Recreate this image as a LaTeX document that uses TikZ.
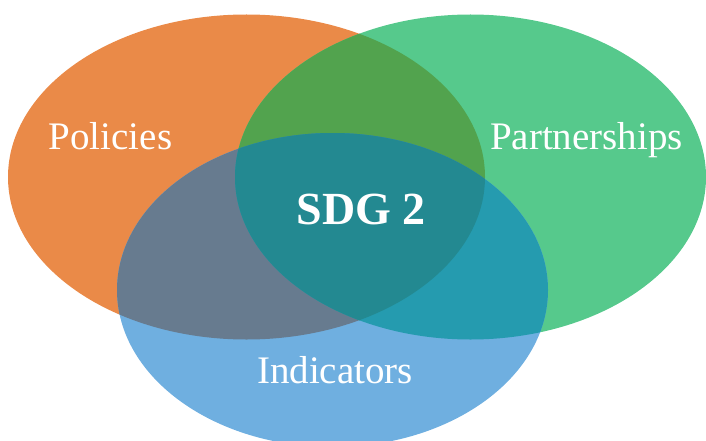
\documentclass[tikz,border=0pt]{standalone}
\usepackage{fontspec}
\setmainfont{Liberation Serif}
\definecolor{cO}{HTML}{EA8A48}
\definecolor{cG}{HTML}{56C98C}
\definecolor{cB}{HTML}{6FAFE0}
\definecolor{cOG}{HTML}{52A34E}
\definecolor{cOB}{HTML}{677B8F}
\definecolor{cGB}{HTML}{259BAF}
\definecolor{cOGB}{HTML}{238991}
\begin{document}
\begin{tikzpicture}[x=1pt,y=-1pt,
  lbl/.style={text=white, inner sep=0pt, anchor=base, font=\fontsize{39}{42}\selectfont},
  ctr/.style={text=white, inner sep=0pt, anchor=base, font=\bfseries\fontsize{46}{50}\selectfont}]
\useasboundingbox (0,0) rectangle (706,441);
\clip (0,0) rectangle (706,441);
% single sets
\fill[cO] (246.5,177) ellipse [x radius=238.5, y radius=162.5];
\fill[cG] (470.5,177) ellipse [x radius=235.5, y radius=162.5];
\fill[cB] (332.5,290) ellipse [x radius=215.5, y radius=157];
% pairwise
\begin{scope}
  \clip (246.5,177) ellipse [x radius=238.5, y radius=162.5];
  \fill[cOG] (470.5,177) ellipse [x radius=235.5, y radius=162.5];
  \fill[cOB] (332.5,290) ellipse [x radius=215.5, y radius=157];
\end{scope}
\begin{scope}
  \clip (470.5,177) ellipse [x radius=235.5, y radius=162.5];
  \fill[cGB] (332.5,290) ellipse [x radius=215.5, y radius=157];
  \clip (246.5,177) ellipse [x radius=238.5, y radius=162.5];
  \fill[cOGB] (332.5,290) ellipse [x radius=215.5, y radius=157];
\end{scope}
% labels
\node[lbl] (pol) at (110.5,149) {Policies};
\node[lbl] (par) at (586.5,149) {Partnerships};
\node[lbl] (ind) at (335,383) {Indicators};
\node[ctr] (sdg) at (361,224) {SDG 2};
\end{tikzpicture}
\end{document}
